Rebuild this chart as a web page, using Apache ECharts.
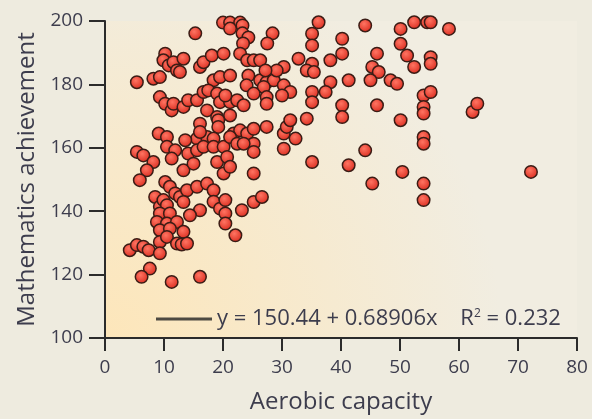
<!DOCTYPE html>
<html>
<head>
<meta charset="utf-8">
<script src="https://cdn.jsdelivr.net/npm/echarts@6/dist/echarts.min.js"></script>
<style>
html, body { margin: 0; padding: 0; background: #eeebdf; }
#main { width: 592px; height: 419px; }
</style>
</head>
<body>
<div id="main"></div>
<script>
// aerobic capacity (x) and maths score (y)
var points = [
	[20.0,199.5],[21.2,199.5],[22.9,199.5],[21.2,197.6],[23.3,198.6],[23.3,196.1],[24.3,194.8],[15.3,196.1],[28.4,196.1],[27.5,192.9],[23.4,192.9],
	[10.2,189.7],[9.9,187.6],[10.8,186.0],[11.6,187.0],[13.3,188.1],[12.2,184.4],[12.7,183.9],[16.1,185.5],[16.7,187.0],[18.1,189.1],[20.1,189.7],
	[18.4,181.3],[19.5,182.3],[21.2,182.8],[22.9,189.7],[24.1,187.6],[25.2,187.6],[26.3,187.6],[24.3,182.8],[26.3,181.3],[27.4,180.7],[28.6,181.3],
	[30.3,185.5],[29.1,184.4],[30.3,179.7],[31.4,177.6],[32.8,188.1],
	[5.4,180.7],[8.2,181.8],[9.3,182.3],[9.3,176.0],[10.2,173.9],[11.3,171.8],[11.6,173.9],[13.3,172.9],[14.1,175.0],[15.6,175.0],[16.7,177.6],
	[17.5,178.1],[19.0,177.1],[19.5,174.4],[21.2,174.4],[22.4,175.0],[23.5,173.4],[17.3,171.8],[19.0,169.7],[21.2,170.2],[16.1,167.6],[19.2,168.7],
	[19.2,166.6],[15.6,162.9],[17.3,163.4],[18.4,162.9],[9.1,164.5],[10.5,163.4],[10.5,160.3],[5.4,158.7],[6.5,157.6],[8.2,155.5],[7.1,152.9],
	[5.9,149.8],[11.9,159.2],[14.1,158.2],[15.6,159.2],[16.7,160.3],[18.4,160.3],[20.1,160.3],[21.8,164.5],[22.9,165.5],[24.1,164.5],[25.2,166.0],
	[27.4,166.6],[25.2,161.3],[25.2,158.7],[21.2,163.4],[22.4,161.3],[23.5,161.3],[19.0,155.5],[20.7,157.1],[13.3,152.9],[15.0,155.0],[20.1,151.9],
	[21.2,154.0],[25.2,151.9],[30.3,164.5],[30.8,166.6],[31.4,168.7],[32.3,162.9],[30.3,159.7],[10.2,149.2],[11.0,147.7],[11.9,145.6],[12.7,144.5],
	[13.9,146.6],[15.6,147.7],[17.3,148.7],[18.4,146.6],[8.5,144.5],
	[9.3,141.4],[9.9,143.5],[10.5,141.9],[13.3,142.9],[16.1,140.3],[14.4,138.7],[9.3,139.3],[11.0,139.3],[8.8,136.6],[10.5,136.1],[12.2,136.6],
	[9.3,134.0],[11.0,134.5],[13.3,133.5],[9.3,130.3],[10.5,131.9],[12.2,129.8],[13.0,129.5],[13.9,129.8],[4.2,127.7],[5.4,129.3],[6.5,128.8],
	[7.4,127.7],[9.3,126.7],[7.6,121.9],[6.2,119.3],[11.3,117.7],[16.1,119.3],
	[18.4,143.0],[19.5,140.8],[20.4,143.5],[20.4,139.3],[20.4,136.1],[22.1,132.4],[23.2,140.3],[25.2,142.9],[26.6,144.5],
	[36.2,199.6],[35.1,196.0],[35.1,192.3],[35.1,186.5],[34.2,184.4],[35.4,183.9],[38.2,187.6],[40.2,194.4],[40.2,189.7],[44.1,198.6],[50.1,197.5],
	[50.1,192.8],[52.4,199.6],[54.6,199.6],[55.2,199.6],[58.3,197.5],[46.1,189.7],[45.3,185.5],[46.4,183.9],[45.0,181.3],[48.4,181.3],[49.5,180.2],
	[51.2,189.1],[52.4,185.5],[55.2,188.6],[55.2,186.5],[38.2,180.7],[41.3,181.3],[35.1,177.6],[37.4,177.6],[35.1,174.4],[40.2,173.4],[40.2,169.7],
	[46.1,173.4],[54.0,176.5],[55.2,177.6],[54.0,172.9],[54.0,170.8],[62.3,171.3],[63.1,173.9],[34.2,169.2],[50.1,168.7],[54.0,163.4],[54.0,161.3],
	[44.1,159.2],[35.1,155.5],[41.3,154.5],[50.4,152.4],[45.3,148.7],[54.0,148.7],[54.0,143.5],[72.2,152.4],
	[27.2,184.4],[24.0,179.7],[26.9,179.2],[30.0,176.5],[25.2,177.1],[27.4,176.0],[27.4,173.9],[20.4,176.5],
	[13.6,162.4],[16.1,165.0],[11.3,156.6]
];

// fitted line y = 150.44 + 0.68906x
var fitA = 150.44;
var fitB = 0.68906;
var fitRange = [4.5, 72.6];
var fitLine = [];
for (var i = 0; i < fitRange.length; i++) {
	fitLine.push({ coord: [fitRange[i], fitA + fitB * fitRange[i]] });
}

var xTicks = { min: 0, max: 80, interval: 10 };
var yTicks = { min: 100, max: 200, interval: 20 };

var textColor = '#3d3d4d';
var axisColor = '#2b2b2b';
var font = 'Open Sans';

var myChart = echarts.init(document.getElementById('main'));

var option = {
	grid: {
		left: 105,
		right: 15,
		top: 21,
		bottom: 81,
		show: true,
		borderWidth: 0,
		backgroundColor: {
			type: 'radial', x: 0, y: 1, r: 1.25,
			colorStops: [
				{ offset: 0, color: '#fde6ba' },
				{ offset: 1, color: '#f1ede1' }
			]
		}
	},
	legend: {
		left: 151,
		top: 303,
		selectedMode: false,
		itemWidth: 56,
		itemHeight: 3,
		data: [{ name: 'fit', icon: 'rect' }],
		formatter: function () {
			return '{a|y = 150.44 + 0.68906x    R}{s|2}{a| = 0.232}';
		},
		textStyle: {
			rich: {
				a: { fontFamily: font, fontSize: 22, color: textColor },
				s: { fontFamily: font, fontSize: 12, color: textColor, verticalAlign: 'top', padding: [0, 0, 8, 0] }
			}
		}
	},
	xAxis: {
		type: 'value',
		min: xTicks.min,
		max: xTicks.max,
		interval: xTicks.interval,
		name: 'Aerobic capacity',
		nameLocation: 'middle',
		nameGap: 52,
		nameTextStyle: { fontFamily: font, fontSize: 24, color: textColor },
		axisLine: { show: true, lineStyle: { color: axisColor, width: 2 } },
		axisTick: { show: true, length: 13, lineStyle: { color: axisColor, width: 2 } },
		axisLabel: { margin: 20, fontFamily: font, fontSize: 19, color: textColor },
		splitLine: { show: false }
	},
	yAxis: {
		type: 'value',
		min: yTicks.min,
		max: yTicks.max,
		interval: yTicks.interval,
		name: 'Mathematics achievement',
		nameLocation: 'middle',
		nameGap: 64,
		nameTextStyle: { fontFamily: font, fontSize: 24, color: textColor },
		axisLine: { show: true, lineStyle: { color: axisColor, width: 2 } },
		axisTick: { show: true, length: 16, lineStyle: { color: axisColor, width: 2 } },
		axisLabel: { margin: 22, fontFamily: font, fontSize: 19, color: textColor },
		splitLine: { show: false }
	},
	series: [
		{
			name: 'data',
			type: 'scatter',
			data: points,
			symbolSize: 12.5,
			itemStyle: {
				color: {
					type: 'radial', x: 0.42, y: 0.38, r: 0.65,
					colorStops: [
						{ offset: 0, color: '#ff7462' },
						{ offset: 1, color: '#d92a1d' }
					]
				},
				borderColor: '#3b1c15',
				borderWidth: 1.5,
				opacity: 1
			},
			markLine: {
				silent: true,
				symbol: 'none',
				label: { show: false },
				lineStyle: { color: '#222222', width: 2.5, type: 'solid' },
				data: [fitLine]
			}
		},
		{
			// only feeds the key entry for the fitted line
			name: 'fit',
			type: 'scatter',
			data: [],
			itemStyle: { color: '#222222' }
		}
	]
};

myChart.setOption(option);
</script>
</body>
</html>
